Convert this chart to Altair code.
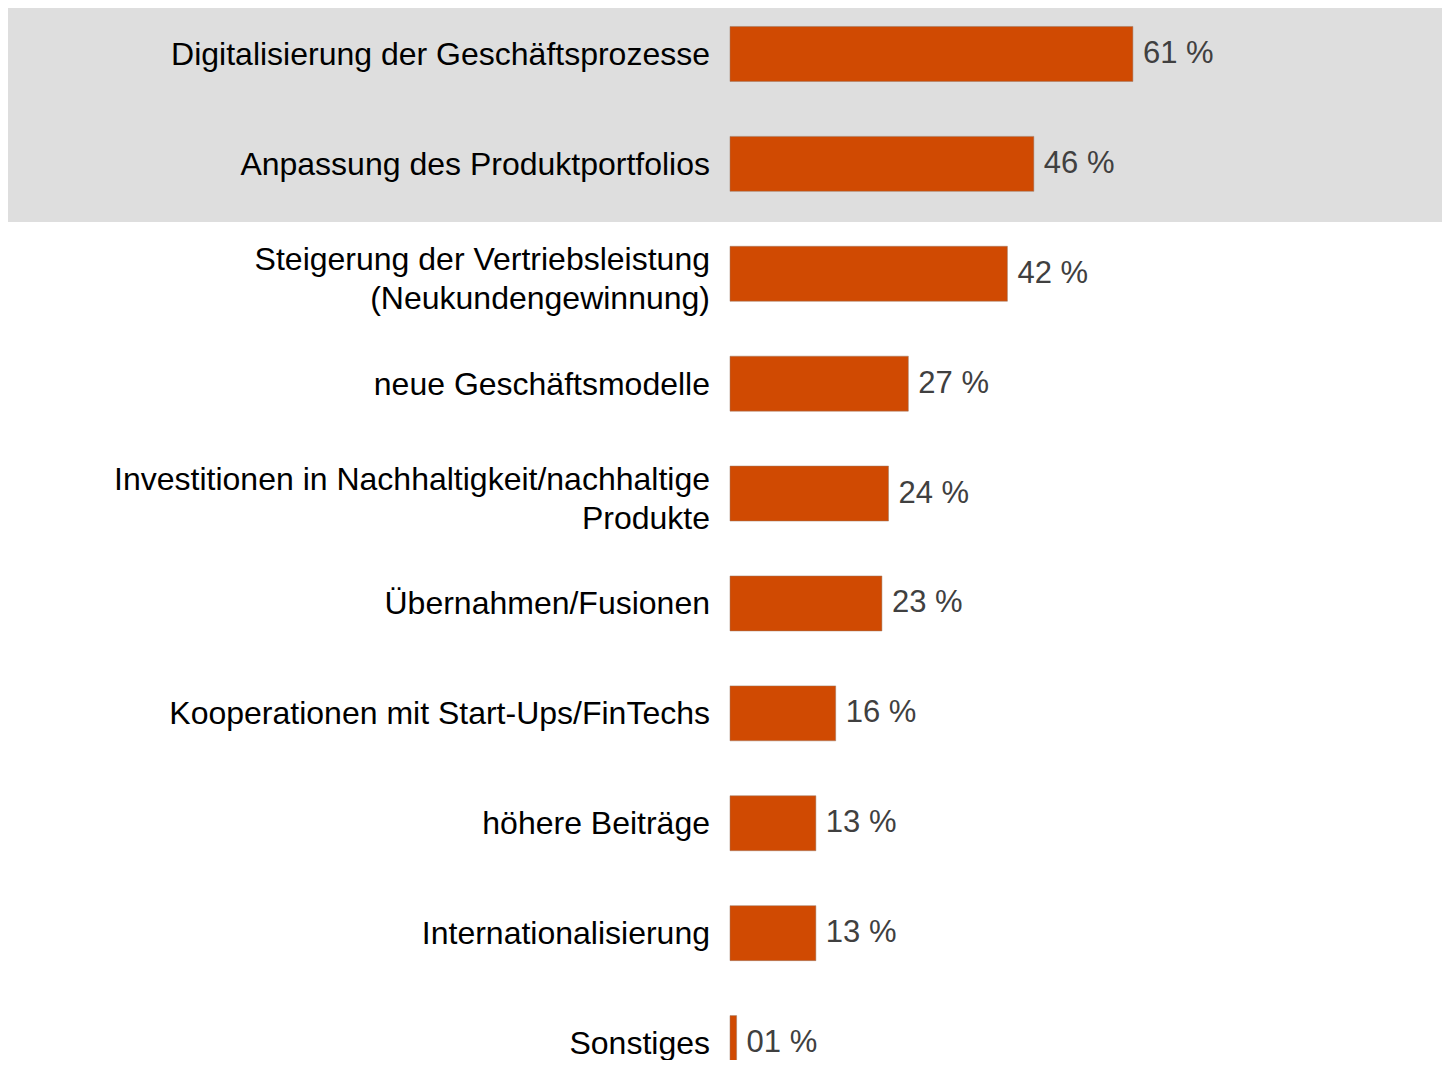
import altair as alt
import pandas as pd

categories = [
    "Digitalisierung der Geschäftsprozesse",
    "Anpassung des Produktportfolios",
    "Steigerung der Vertriebsleistung\n(Neukundengewinnung)",
    "neue Geschäftsmodelle",
    "Investitionen in Nachhaltigkeit/nachhaltige\nProdukte",
    "Übernahmen/Fusionen",
    "Kooperationen mit Start-Ups/FinTechs",
    "höhere Beiträge",
    "Internationalisierung",
    "Sonstiges",
]
values = [61, 46, 42, 27, 24, 23, 16, 13, 13, 1]
highlighted = [True, True, False, False, False, False, False, False, False, False]

df = pd.DataFrame({"cat": categories, "value": values, "hl": highlighted})

yscale = alt.Scale(domain=categories, range=[-9, 1090], paddingInner=0, paddingOuter=0)
y = alt.Y("cat:N", sort=categories, scale=yscale, axis=None)
xscale = alt.Scale(domain=[0, 107.8], nice=False, zero=True)

base = alt.Chart(df)

band = base.transform_filter("datum.hl").mark_bar(
    color="#DEDEDE", height={"band": 1.06}
).encode(
    y=y,
    x=alt.value(-725),
    x2=alt.value(720),
)

bars = base.mark_bar(
    color="#D04A02", height={"band": 0.5}, stroke="#9c7a66", strokeWidth=1, strokeOpacity=0.5
).encode(
    y=y,
    x=alt.X("value:Q", scale=xscale, axis=None),
)

label_style = dict(
    align="right", baseline="middle", font="Liberation Sans", fontSize=32,
    color="#000000", lineBreak="\n", lineHeight=39,
)

labels_single = base.transform_filter("indexof(datum.cat, '\\n') < 0").mark_text(
    dy=1, **label_style
).encode(
    y=y,
    x=alt.value(-20),
    text="cat:N",
)

labels_multi = base.transform_filter("indexof(datum.cat, '\\n') >= 0").mark_text(
    dy=-14, **label_style
).encode(
    y=y,
    x=alt.value(-20),
    text="cat:N",
)

vals = base.transform_calculate(
    lbl="format(datum.value, '02d') + ' %'"
).mark_text(
    align="left", baseline="middle", dx=10, font="Liberation Sans", fontSize=31,
    color="#404040",
).encode(
    y=y,
    x=alt.X("value:Q", scale=xscale, axis=None),
    text="lbl:N",
)

chart = alt.layer(band, bars, labels_single, labels_multi, vals).properties(
    width=712,
    height=1052,
    background="#FFFFFF",
    autosize=alt.AutoSizeParams(type="none"),
    padding={"left": 722, "top": 0, "right": 0, "bottom": 0},
).configure_view(stroke=None)

chart.save("out.html", embed_options={"renderer": "svg", "actions": False})
